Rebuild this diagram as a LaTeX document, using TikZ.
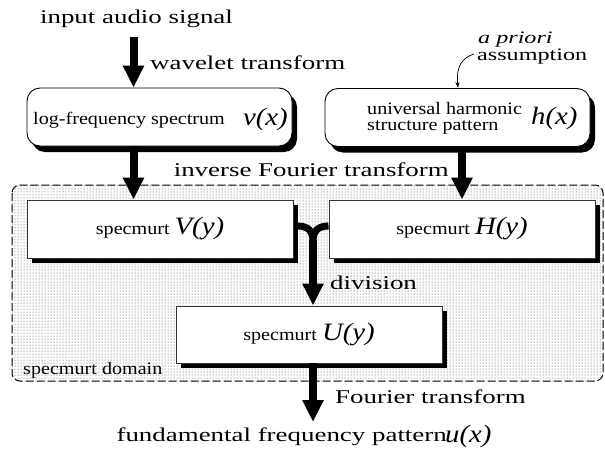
\documentclass[tikz,border=0pt]{standalone}
\usepackage{fontspec}
\setmainfont{Liberation Serif}
\newfontfamily\widefont[FakeStretch=1.38]{Liberation Serif}
\newfontfamily\boxfont[FakeStretch=1.15]{Liberation Serif}
\newfontfamily\mfont[FakeStretch=1.15]{Liberation Serif}
\usetikzlibrary{arrows.meta,patterns,shadows,calc}
\newcommand{\mth}[1]{{\mfont\itshape\fontsize{25}{27}\selectfont #1}}
\tikzset{
  lbl/.style={font=\widefont\fontsize{19.5}{22}\selectfont, inner sep=0},
  slbl/.style={font=\widefont\fontsize{17.5}{13}\selectfont, inner sep=0, align=left},
  btxt/.style={font=\boxfont\fontsize{17.5}{21}\selectfont, inner sep=0},
  small/.style={font=\boxfont\fontsize{17.5}{16}\selectfont, inner sep=0, align=left},
  rbox/.style={draw=black, line width=0.9, rounded corners=13, fill=white,
    drop shadow={shadow xshift=5pt, shadow yshift=-6pt, opacity=1, fill=black},
    minimum height=58, inner sep=0},
  sbox/.style={draw=black!80, line width=0.9, fill=white,
    drop shadow={shadow xshift=5pt, shadow yshift=-5pt, opacity=1, fill=black},
    minimum width=266, minimum height=58, inner sep=0},
  bigarrow/.style={line width=8, -{Triangle[width=20pt,length=22pt]}},
  fork/.style={line width=7},
}
\begin{document}
\begin{tikzpicture}[x=1pt,y=-1pt]
\useasboundingbox (0,0) rectangle (605,453);
% domain region
\draw[dash pattern=on 8pt off 3pt, line width=1, rounded corners=8,
      pattern=dots, pattern color=black!75] (12,185) rectangle (603,381);
\node[btxt, anchor=west] (dom) at (23,370) {specmurt domain};

% top label and arrow
\node[lbl] (inp) at (136.5,19) {input audio signal};
\coordinate (a1) at (133.5,37);
\node[lbl, anchor=west] (wt) at (150,63) {wavelet transform};

% rounded boxes
\node[rbox, minimum width=265] (box1) at (159.5,117) {};
\node[btxt, anchor=west] (lf) at (33,120) {log-frequency spectrum};
\node[anchor=east, inner sep=0] (vx) at (288,119) {\mth{v(x)}};

\node[rbox, minimum width=265] (box2) at (457.5,117.5) {};
\node[small, anchor=west] (uh) at (367,118) {universal harmonic\\structure pattern};
\node[anchor=west, inner sep=0] (hx) at (531,118) {\mth{h(x)}};

\draw[bigarrow] (a1) -- (a1 |- box1.north);

% a priori
\node[slbl, anchor=west] (apr) at (477,48) {\hspace*{1pt}\itshape a priori\\assumption};
\coordinate (aptip) at (458,88);
\draw[line width=0.7, -{Stealth[length=6pt,width=4pt]}]
  ($(apr.west)+(-3,6)$) .. controls (462,58) and (456,66) .. (aptip);

% specmurt boxes
\node[sbox] (vb) at (160,229) {};
\node[btxt] (vs) at (vb) {specmurt \mth{V(y)}};
\node[sbox] (hb) at (462,229) {};
\node[btxt] (hs) at (hb) {specmurt \mth{H(y)}};
\node[sbox, minimum height=57] (ub) at (309,334.5) {};
\node[btxt] (us) at (ub) {specmurt \mth{U(y)}};

\draw[bigarrow] (box1.south -| a1) -- (vb.north -| a1);
\draw[bigarrow] (box2.south -| hb.north) -- (hb.north);
\node[lbl, anchor=east] (ift) at (449,170) {inverse Fourier transform};

% fork
\coordinate (fj) at (313,241);
\draw[fork] ($(vb.east)+(4,-3)$) .. controls (308,226) and (313,231) .. (fj);
\draw[fork] ($(hb.west)+(0,-3)$) .. controls (318,226) and (313,231) .. (fj);
\draw[bigarrow] ($(fj)+(0,-1)$) -- (fj |- ub.north);
\node[lbl, anchor=west] (div) at (330,283) {division};

% bottom
\coordinate (ft) at (313,422);
\draw[bigarrow] (ub.south -| ft) -- (ft);
\node[lbl, anchor=west] (fou) at (335,397) {Fourier transform};
\node[lbl, anchor=east] (ffp) at (447,437) {fundamental frequency pattern};
\node[anchor=west, inner sep=0] (ux) at (445,436) {\mth{u(x)}};
\end{tikzpicture}
\end{document}
